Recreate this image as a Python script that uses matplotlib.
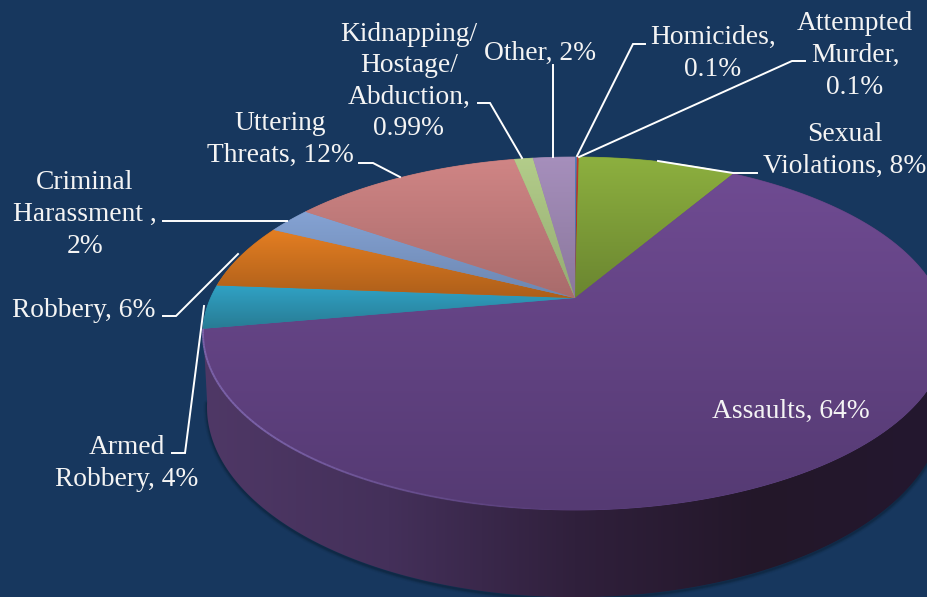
import numpy as np
import matplotlib
matplotlib.use("Agg")
import matplotlib.pyplot as plt
from matplotlib.patches import Polygon
from matplotlib.collections import LineCollection
from matplotlib.colors import to_rgb

# ---- data (clockwise from 12 o'clock) ----
categories = ["Homicides", "Attempted Murder", "Sexual Violations", "Assaults",
              "Armed Robbery", "Robbery", "Criminal Harassment", "Uttering Threats",
              "Kidnapping/Hostage/Abduction", "Other"]
values = [0.1, 0.1, 8.3, 63.7, 4, 6, 2.4, 12.2, 0.99, 2.21]

top_colors = ["#4F81BD", "#C0392B", "#8DB03F", "#6F4B92", "#30A3C6", "#E57F22",
              "#85A3D4", "#D08585", "#B3CD8A", "#A68FBC"]
bot_colors = ["#426C9E", "#A33024", "#6A8530", "#553A73", "#287A92", "#AC5E1A",
              "#6C86B0", "#A86B6B", "#94AA72", "#8A779C"]

label_texts = ["Homicides,\n0.1%", "Attempted\nMurder,\n0.1%", "Sexual\nViolations, 8%",
               "Assaults, 64%", "Armed\nRobbery, 4%", "Robbery, 6%",
               "Criminal\nHarassment ,\n2%", "Uttering\nThreats, 12%",
               "Kidnapping/\nHostage/\nAbduction,\n0.99%", "Other, 2%"]
label_x = [713, 855, 845, 791, 127, 83.5, 85, 280, 409, 540]
label_y = [53.5, 55.5, 150.5, 411.5, 463.5, 310.5, 214.5, 139.5, 81.5, 53.5]

leaders = [[(645, 44), (633, 44), (577, 156)],
           [(805, 61), (792, 61), (579, 157)],
           [(757, 173), (733, 173), (658, 161)],
           None,
           [(172, 453), (185, 453), (204, 306)],
           [(163, 316), (176, 316), (238, 254)],
           [(163, 220.5), (287, 220.5)],
           [(359, 163), (373, 163), (400, 177)],
           [(478, 103), (490, 103), (522, 158)],
           [(553, 65), (553, 157)]]

BG = "#17375E"
W, H = 928, 597
fig = plt.figure(figsize=(W / 100, H / 100), dpi=100, facecolor=BG)
ax = fig.add_axes([0, 0, 1, 1])
ax.set_xlim(0, W)
ax.set_ylim(H, 0)
ax.axis("off")
plt.rcParams["font.family"] = ["Liberation Serif", "DejaVu Serif"]

C = 0.2011


def top_pt(t):
    """Perspective view of the unit circle, t = clockwise radians from 12 o'clock."""
    u, v = np.sin(t), np.cos(t)
    return 575 + 364.4 * u / (1 + C * v), (298 - 109.4 * v) / (1 + C * v)


def rim_pt(t):
    u, v = np.sin(t), np.cos(t)
    return 575 + 360.5 * u / (1 + C * v), (368.9 - 108.2 * v) / (1 + C * v)


vals = np.asarray(values, float)
edges = np.concatenate([[0], np.cumsum(vals)]) / vals.sum() * 2 * np.pi


def grad_fill(poly, stops, horizontal=False, z=2):
    xy = np.asarray(poly)
    x0, x1, y0, y1 = xy[:, 0].min(), xy[:, 0].max(), xy[:, 1].min(), xy[:, 1].max()
    s = np.linspace(0, 1, 256)
    cols = [to_rgb(c) for c in stops]
    pos = np.linspace(0, 1, len(cols))
    arr = np.stack([np.interp(s, pos, [c[i] for c in cols]) for i in range(3)], -1)
    arr = arr[None, :, :] if horizontal else arr[:, None, :]
    im = ax.imshow(arr, extent=(x0 - 1, x1 + 1, y1 + 1, y0 - 1), origin="upper",
                   aspect="auto", zorder=z, interpolation="bilinear")
    p = Polygon(xy, closed=True, transform=ax.transData, fc="none", ec="none")
    ax.add_patch(p)
    im.set_clip_path(p)


# soft shadow beneath the wall
i_a = categories.index("Assaults")
tw = np.linspace(edges[i_a], edges[i_a + 1], 300)
rx, ry = rim_pt(tw)
for lw, a in [(5, 0.12), (3, 0.25), (1.5, 0.4)]:
    ax.plot(rx, ry + 1.5, color="#0C2238", lw=lw, alpha=a, zorder=1, solid_capstyle="round")

# side wall of the largest slice
tx, ty = top_pt(tw)
wall = np.column_stack([np.r_[tx, rx[::-1]], np.r_[ty, ry[::-1]]])
grad_fill(wall, ["#4F3866", "#44305A", "#30203C", "#231729", "#241830"], horizontal=True, z=2)

# top faces: a flat base under each gradient closes the seams between slices
for i in range(len(vals)):
    t = np.linspace(edges[i], edges[i + 1], max(int((edges[i + 1] - edges[i]) * 150), 4))
    px, py = top_pt(t)
    poly = np.column_stack([np.r_[575, px], np.r_[298, py]])
    mid = tuple((np.array(to_rgb(top_colors[i])) + np.array(to_rgb(bot_colors[i]))) / 2)
    ax.add_patch(Polygon(poly, closed=True, fc=mid, ec=mid, lw=0.6, zorder=2.5))
    grad_fill(poly, [top_colors[i], bot_colors[i]], z=3)

# bevel highlight along the near edge
sx, sy = top_pt(tw)
pts = np.column_stack([sx, sy])
segs = np.stack([pts[:-1], pts[1:]], axis=1)
alpha = np.clip((560 - sx[:-1]) / 300, 0, 1) * 0.85
rgba = np.zeros((len(segs), 4))
rgba[:, :3] = to_rgb("#8068B0")
rgba[:, 3] = np.clip(alpha, 0, 1)
ax.add_collection(LineCollection(segs, colors=rgba, linewidths=1.4, zorder=4))

# leader lines
for pts_ in leaders:
    if pts_ is None:
        continue
    xs, ys = zip(*pts_)
    ax.plot(xs, ys, color="white", lw=1.4, zorder=5, solid_joinstyle="miter")

# labels
for s, x, y in zip(label_texts, label_x, label_y):
    ax.text(x, y, s, ha="center", va="center", fontsize=19.8, color="#F4F4F4",
            linespacing=1.35, family="Liberation Serif", zorder=6)

fig.savefig("out.png", dpi=100, facecolor=BG)
